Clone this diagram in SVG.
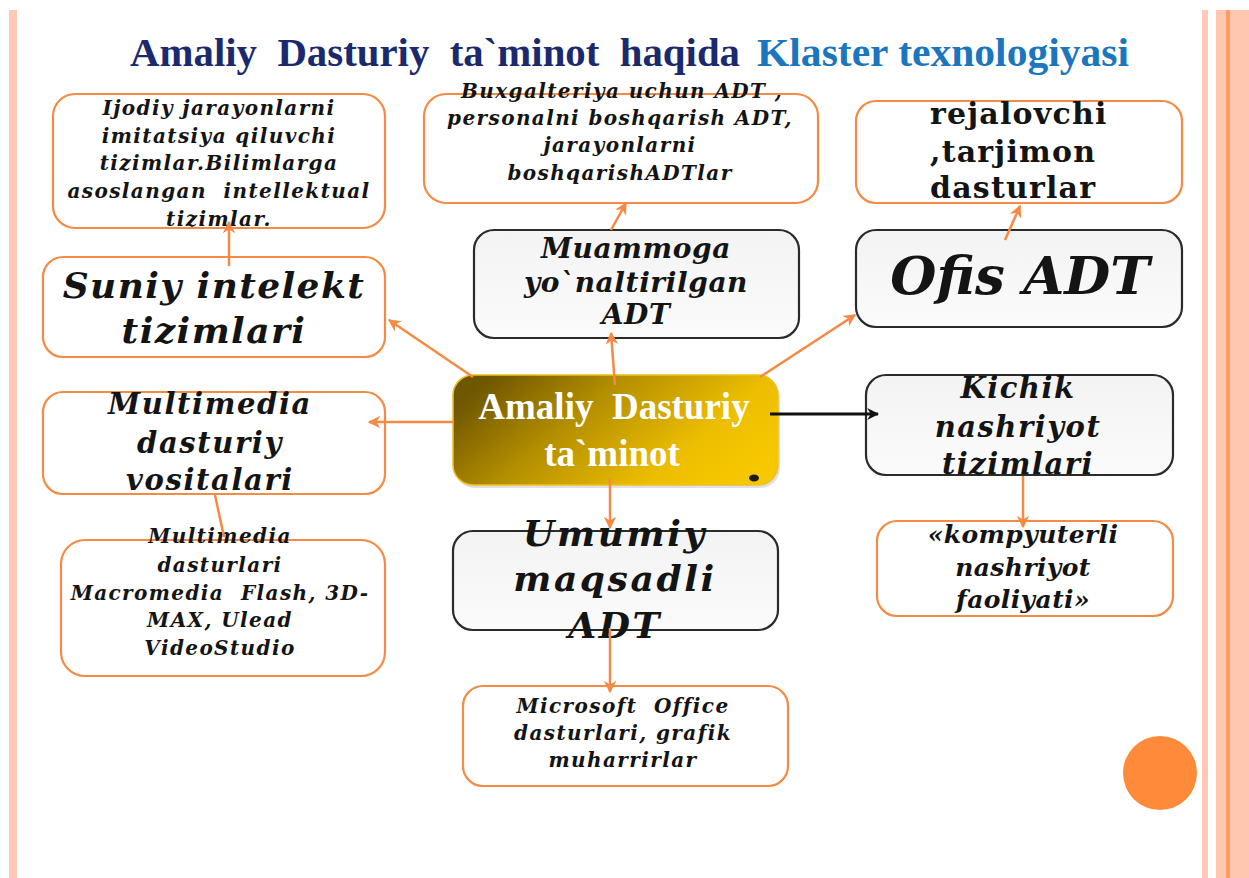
<svg xmlns="http://www.w3.org/2000/svg" width="1249" height="878" viewBox="0 0 1249 878">
<defs>
<style>
.ob{fill:#fff;stroke:#F58A45;stroke-width:2.2}
.gb{fill:url(#gray);stroke:#2b2b2b;stroke-width:2.2}
.t{font-family:"DejaVu Serif","Liberation Serif",serif;font-weight:bold;font-style:italic;fill:#141414;text-anchor:middle;white-space:pre}
.s{font-size:20px;letter-spacing:1.4px}
.tr{font-family:"DejaVu Serif","Liberation Serif",serif;font-weight:bold;fill:#141414}
.c{fill:none;stroke:#F58A45;stroke-width:2.5}
.title{font-family:"Liberation Serif",serif;font-weight:bold;font-size:40px;white-space:pre}
</style>
<linearGradient id="gray" x1="0" y1="0" x2="0" y2="1">
<stop offset="0" stop-color="#F3F3F3"/>
<stop offset="1" stop-color="#FBFBFB"/>
</linearGradient>
<linearGradient id="gold" x1="0" y1="0.3" x2="1" y2="0.7">
<stop offset="0" stop-color="#6F5600"/>
<stop offset="0.35" stop-color="#B38E00"/>
<stop offset="0.75" stop-color="#EDBE00"/>
<stop offset="1" stop-color="#F7C800"/>
</linearGradient>
<marker id="ao" viewBox="0 0 10 10" refX="9" refY="5" markerWidth="5" markerHeight="5" orient="auto">
<path d="M0,0 L10,5 L0,10 L3,5 Z" fill="#F58A45"/>
</marker>
<marker id="ak" viewBox="0 0 10 10" refX="9" refY="5" markerWidth="4" markerHeight="4" orient="auto">
<path d="M0,0 L10,5 L0,10 L3,5 Z" fill="#111"/>
</marker>
</defs>
<rect width="1249" height="878" fill="#fff"/>
<rect x="9" y="10" width="8" height="868" fill="#FFC9B6"/>
<rect x="1202" y="10" width="6" height="868" fill="#FFC9B6"/>
<rect x="1216" y="10" width="33" height="868" fill="#FFC6B0"/>
<rect x="1226" y="10" width="4" height="868" fill="#FF9A66"/>

<text class="title" x="130" y="66" fill="#1B2A6E" textLength="610" lengthAdjust="spacingAndGlyphs">Amaliy  Dasturiy  ta`minot  haqida</text>
<text class="title" x="757" y="66" fill="#1B76BE" textLength="372" lengthAdjust="spacingAndGlyphs">Klaster texnologiyasi</text>

<g id="n-ijodiy">
<rect class="ob" x="53" y="94" width="332" height="134" rx="22"/>
<text class="t s"><tspan x="219" y="115">Ijodiy jarayonlarni</tspan><tspan x="219" y="143">imitatsiya qiluvchi</tspan><tspan x="219" y="170">tizimlar.Bilimlarga</tspan><tspan x="219" y="198">asoslangan  intellektual</tspan><tspan x="219" y="226">tizimlar.</tspan></text>
</g>
<g id="n-suniy">
<rect class="ob" x="43" y="257" width="342" height="100" rx="20"/>
<text class="t" font-size="36" letter-spacing="1.4"><tspan x="214" y="298">Suniy intelekt</tspan><tspan x="214" y="343">tizimlari</tspan></text>
</g>
<g id="n-buxgalteriya">
<rect class="ob" x="424" y="94" width="394" height="109" rx="22"/>
<text class="t s"><tspan x="622" y="98">Buxgalteriya uchun ADT ,</tspan><tspan x="620" y="125">personalni boshqarish ADT,</tspan><tspan x="620" y="152">jarayonlarni</tspan><tspan x="620" y="180">boshqarishADTlar</tspan></text>
</g>
<g id="n-muammoga">
<rect class="gb" x="474" y="230" width="325" height="108" rx="20"/>
<text class="t" font-size="28" letter-spacing="0.6"><tspan x="636" y="258">Muammoga</tspan><tspan x="636" y="292">yo`naltirilgan</tspan><tspan x="636" y="324">ADT</tspan></text>
</g>
<g id="n-rejalovchi">
<rect class="ob" x="856" y="101" width="326" height="102" rx="20"/>
<text class="tr" font-size="30" letter-spacing="1.2"><tspan x="930" y="124">rejalovchi</tspan><tspan x="930" y="162">,tarjimon</tspan><tspan x="930" y="198">dasturlar</tspan></text>
</g>
<g id="n-ofis">
<rect class="gb" x="856" y="230" width="326" height="97" rx="20"/>
<text class="t" font-size="53" x="1020" y="294">Ofis ADT</text>
</g>
<g id="n-kichik">
<rect class="gb" x="866" y="375" width="307" height="100" rx="20"/>
<text class="t" font-size="29" letter-spacing="1.5"><tspan x="1018" y="398">Kichik</tspan><tspan x="1018" y="437">nashriyot</tspan><tspan x="1018" y="474">tizimlari</tspan></text>
</g>
<g id="n-kompyuterli">
<rect class="ob" x="877" y="521" width="296" height="95" rx="20"/>
<text class="t" font-size="25" letter-spacing="0.4"><tspan x="1023" y="543">«kompyuterli</tspan><tspan x="1023" y="576">nashriyot</tspan><tspan x="1023" y="608">faoliyati»</tspan></text>
</g>
<g id="n-multimedia">
<rect class="ob" x="43" y="392" width="342" height="102" rx="20"/>
<text class="t" font-size="29" letter-spacing="1.6"><tspan x="210" y="414">Multimedia</tspan><tspan x="210" y="453">dasturiy</tspan><tspan x="210" y="490">vositalari</tspan></text>
</g>
<g id="n-multimedia-dasturlari">
<rect class="ob" x="61" y="540" width="324" height="136" rx="24"/>
<text class="t s"><tspan x="220" y="543">Multimedia</tspan><tspan x="220" y="572">dasturlari</tspan><tspan x="220" y="600">Macromedia  Flash, 3D-</tspan><tspan x="220" y="627">MAX, Ulead</tspan><tspan x="220" y="655">VideoStudio</tspan></text>
</g>
<g id="n-center">
<rect x="455" y="378" width="325" height="110" rx="20" fill="#000" opacity="0.12"/>
<rect x="453" y="375" width="325" height="110" rx="20" fill="url(#gold)" stroke="#F0C020" stroke-width="1.5"/>
<text font-family="'Liberation Serif',serif" font-weight="bold" font-size="37" fill="#fff" text-anchor="middle" style="white-space:pre"><tspan x="614" y="419">Amaliy  Dasturiy</tspan><tspan x="612" y="466">ta`minot</tspan></text>
<ellipse cx="754" cy="478" rx="5" ry="3.5" fill="#1a1a1a"/>
</g>
<g id="n-umumiy">
<rect class="gb" x="453" y="531" width="325" height="99" rx="20"/>
<text class="t" font-size="36" letter-spacing="2.6"><tspan x="615" y="546">Umumiy</tspan><tspan x="615" y="591">maqsadli</tspan><tspan x="615" y="638">ADT</tspan></text>
</g>
<g id="n-microsoft">
<rect class="ob" x="463" y="686" width="325" height="100" rx="20"/>
<text class="t s"><tspan x="623" y="713">Microsoft  Office</tspan><tspan x="623" y="740">dasturlari, grafik</tspan><tspan x="623" y="767">muharrirlar</tspan></text>
</g>
<circle cx="1160" cy="773" r="37" fill="#FF8A3A"/>

<g id="connectors">
<line class="c" x1="229" y1="266" x2="229" y2="222" marker-end="url(#ao)"/>
<line class="c" x1="611" y1="230" x2="626" y2="203" marker-end="url(#ao)"/>
<line class="c" x1="1005" y1="240" x2="1020" y2="206" marker-end="url(#ao)"/>
<line class="c" x1="1023" y1="476" x2="1023" y2="527" marker-end="url(#ao)"/>
<line class="c" x1="215" y1="495" x2="224" y2="537"/>
<line class="c" x1="473" y1="377" x2="389" y2="320" marker-end="url(#ao)"/>
<line class="c" x1="615" y1="385" x2="611" y2="333" marker-end="url(#ao)"/>
<line class="c" x1="760" y1="377" x2="855" y2="315" marker-end="url(#ao)"/>
<line class="c" x1="453" y1="422" x2="369" y2="422" marker-end="url(#ao)"/>
<line class="c" x1="610" y1="478" x2="610" y2="528" marker-end="url(#ao)"/>
<line class="c" x1="610" y1="628" x2="610" y2="692" marker-end="url(#ao)"/>
<line x1="770" y1="414" x2="878" y2="414" stroke="#111" stroke-width="3" marker-end="url(#ak)"/>
</g>
</svg>
